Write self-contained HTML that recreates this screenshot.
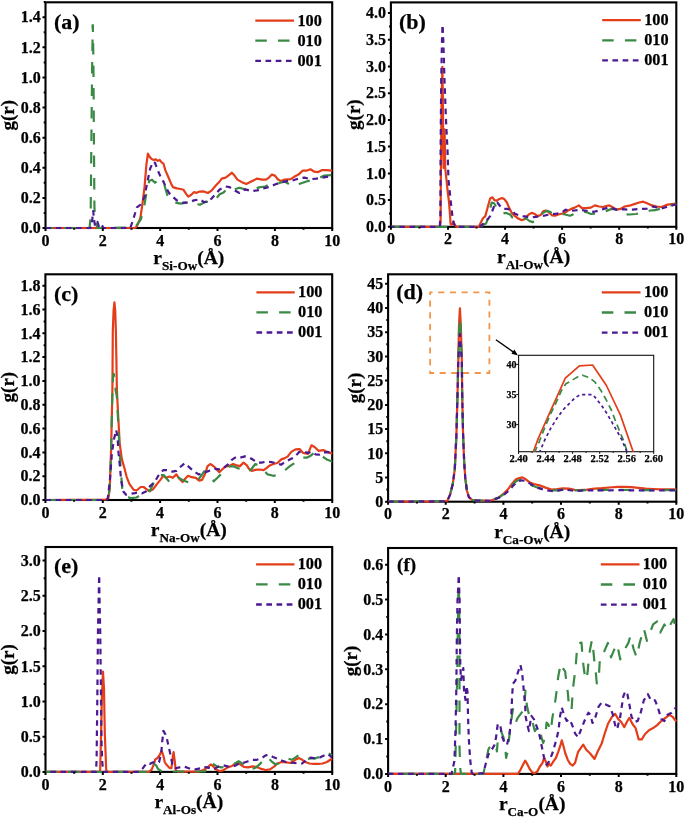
<!DOCTYPE html><html><head><meta charset="utf-8"><style>html,body{margin:0;padding:0;background:#fff;}svg{display:block} .t{font-family:"Liberation Serif",serif;font-weight:bold;stroke:#000;stroke-width:0.25px}</style></head><body>
<svg width="685" height="818" viewBox="0 0 685 818">
<rect width="685" height="818" fill="#fff"/>
<rect x="45.5" y="2.3" width="286.7" height="225.7" fill="none" stroke="#000" stroke-width="2.1"/>
<clipPath id="ca"><rect x="45.0" y="2.3" width="287.7" height="227.3"/></clipPath>
<g clip-path="url(#ca)" fill="none" stroke-linejoin="round">
<path d="M45.5 228.0 L135.0 228.0 L136.9 226.4 L140.4 217.8 L142.6 202.6 L144.5 187.4 L146.4 164.7 L147.9 153.7 L149.8 157.1 L151.7 159.0 L153.6 159.9 L155.9 159.4 L157.8 160.9 L159.7 159.9 L161.6 162.4 L163.5 163.7 L165.4 170.4 L168.3 177.0 L171.1 183.7 L173.0 187.1 L176.8 188.4 L180.6 189.0 L183.4 189.7 L186.3 194.1 L188.2 196.6 L191.0 195.0 L193.9 192.2 L196.7 192.8 L199.6 191.6 L203.9 191.4 L207.9 193.0 L211.8 190.4 L215.8 185.5 L219.7 181.5 L221.7 178.6 L225.6 177.6 L229.6 174.6 L231.9 172.7 L234.5 175.6 L237.4 179.6 L241.4 181.9 L246.3 183.9 L251.2 181.5 L257.2 178.6 L262.1 179.6 L266.0 179.6 L269.0 177.6 L271.9 174.6 L274.9 175.6 L277.8 179.2 L280.8 181.1 L284.7 179.6 L290.7 179.2 L294.6 176.6 L298.5 174.6 L302.5 170.7 L306.4 170.7 L310.4 169.3 L314.3 171.7 L318.2 172.1 L322.2 170.1 L326.1 170.1 L332.2 170.7" stroke="#E43D1A" stroke-width="2.2"/>
<path d="M92.8 24.5 L92.2 60.0 L91.3 150.0 L90.6 218.0 L89.5 228.0 L45.5 228.0" stroke="#3A8A46" stroke-width="2.2" stroke-dasharray="11.5 11" stroke-dashoffset="7.50"/>
<path d="M92.8 24.5 L93.4 60.0 L94.0 150.0 L94.4 205.0 L95.0 222.0 L96.5 225.0 L97.5 228.0 L135.0 227.5 L140.7 219.7 L143.6 210.2 L146.4 193.1 L149.3 180.8 L152.1 179.9 L155.0 182.7 L157.8 180.8 L161.6 179.9 L164.5 185.5 L167.3 195.0 L170.1 200.7 L174.9 202.6 L180.6 203.6 L186.3 202.6 L192.0 202.6 L197.7 204.2 L200.0 204.8 L205.9 201.6 L211.8 202.8 L214.8 200.3 L219.7 194.3 L223.6 192.4 L228.6 187.4 L234.5 189.4 L239.4 187.8 L245.3 189.4 L253.2 189.4 L259.1 187.4 L265.0 186.5 L271.9 183.5 L278.8 183.1 L284.7 181.5 L289.7 184.5 L294.6 186.5 L300.5 183.5 L306.4 181.5 L312.3 180.0 L318.2 178.6 L324.2 175.6 L332.2 175.0" stroke="#3A8A46" stroke-width="2.2" stroke-dasharray="11.5 11" stroke-dashoffset="4.00"/>
<path d="M45.5 228.0 L90.5 228.0 L92.0 222.0 L93.2 211.0 L94.0 219.0 L95.0 226.0 L97.5 222.0 L99.0 227.0 L101.5 224.5 L103.5 228.0 L130.3 228.0 L133.1 219.7 L136.9 207.4 L140.7 204.5 L144.5 196.9 L147.4 181.8 L150.2 168.5 L153.1 161.8 L155.0 162.8 L157.8 170.4 L160.7 177.0 L163.5 181.8 L166.4 188.4 L169.2 193.1 L173.0 196.9 L176.8 200.4 L182.5 202.6 L188.2 202.6 L193.9 200.4 L200.0 199.3 L203.9 202.2 L207.9 201.6 L211.8 198.3 L215.8 193.8 L219.7 189.4 L225.6 186.5 L229.6 187.1 L234.5 190.4 L239.4 193.0 L245.3 189.4 L251.2 191.0 L257.2 190.4 L263.1 188.4 L269.0 187.1 L274.9 184.5 L280.8 182.5 L286.7 181.1 L292.6 180.5 L298.5 178.6 L304.5 177.6 L310.4 179.2 L316.3 178.6 L322.2 177.6 L328.1 176.6 L332.2 175.6" stroke="#4B1A92" stroke-width="2.2" stroke-dasharray="5.6 4.6" stroke-dashoffset="0.00"/>
</g>
<path d="M45.5 228.0V231.0 M74.2 228.0V229.8 M102.8 228.0V231.0 M131.5 228.0V229.8 M160.2 228.0V231.0 M188.8 228.0V229.8 M217.5 228.0V231.0 M246.2 228.0V229.8 M274.9 228.0V231.0 M303.5 228.0V229.8 M332.2 228.0V231.0 M45.5 228.0H42.5 M45.5 212.9H43.7 M45.5 197.9H42.5 M45.5 182.8H43.7 M45.5 167.8H42.5 M45.5 152.7H43.7 M45.5 137.7H42.5 M45.5 122.6H43.7 M45.5 107.5H42.5 M45.5 92.5H43.7 M45.5 77.4H42.5 M45.5 62.4H43.7 M45.5 47.3H42.5 M45.5 32.3H43.7 M45.5 17.2H42.5 M45.5 2.1H43.7" stroke="#000" stroke-width="2" fill="none"/>
<path d="M255.3 20.6H294.0" stroke="#E43D1A" stroke-width="2.3"/>
<path d="M255.3 40.7H294.0" stroke="#3A8A46" stroke-width="2.3" stroke-dasharray="11.5 11.2"/>
<path d="M255.3 60.8H294.0" stroke="#4B1A92" stroke-width="2.3" stroke-dasharray="5.7 4.5"/>
<rect x="390.9" y="2.4" width="285.4" height="224.4" fill="none" stroke="#000" stroke-width="2.1"/>
<clipPath id="cb"><rect x="390.4" y="2.4" width="286.4" height="226.0"/></clipPath>
<g clip-path="url(#cb)" fill="none" stroke-linejoin="round">
<path d="M390.9 226.8 L440.0 226.8 L440.6 222.0 L441.0 160.0 L441.6 100.0 L442.4 66.8 L442.9 100.0 L443.3 150.0 L443.6 168.0 L444.0 150.0 L444.5 129.4 L445.0 150.0 L445.2 168.0 L446.5 180.0 L447.5 190.0 L449.0 202.0 L450.0 215.0 L450.6 224.0 L451.6 224.7 L453.6 222.2 L455.0 225.2 L456.6 226.8 L478.8 226.8 L480.4 223.4 L482.8 218.5 L485.3 216.1 L487.7 207.3 L490.1 198.5 L492.5 197.3 L494.4 200.1 L496.5 200.6 L498.9 199.3 L502.1 198.0 L504.5 199.3 L506.9 202.5 L509.3 208.1 L511.8 212.9 L515.0 216.1 L518.2 218.5 L521.4 220.1 L524.6 219.3 L527.0 216.1 L529.4 214.0 L531.8 212.9 L534.2 213.7 L537.4 216.1 L540.7 215.0 L543.1 211.3 L545.5 210.5 L548.7 212.1 L551.9 215.3 L555.1 215.7 L558.3 214.5 L561.5 213.7 L564.7 212.9 L568.0 210.5 L571.2 208.9 L574.8 207.6 L578.8 205.4 L582.0 208.1 L586.1 208.1 L590.9 207.6 L594.9 205.4 L598.9 206.5 L602.9 207.0 L606.1 206.0 L609.3 205.4 L612.6 207.3 L616.6 209.7 L620.6 208.9 L624.6 206.5 L629.4 205.7 L634.2 204.1 L639.1 202.5 L643.1 201.7 L647.1 203.3 L651.9 205.4 L656.7 206.5 L661.5 207.0 L666.4 204.9 L671.2 204.1 L676.3 203.6" stroke="#E43D1A" stroke-width="2.2"/>
<path d="M390.9 226.8 L480.0 226.8 L482.8 225.0 L486.1 223.4 L488.5 216.9 L490.1 208.9 L491.7 202.5 L494.1 203.3 L496.5 207.3 L498.9 211.3 L502.1 213.7 L506.1 212.9 L510.1 214.5 L512.6 217.7 L516.6 219.3 L521.4 219.3 L526.2 218.5 L529.4 221.0 L532.6 222.1 L535.8 221.0 L539.1 217.7 L543.1 212.9 L547.1 210.8 L550.3 212.1 L553.5 213.7 L558.3 214.5 L563.1 214.0 L570.0 215.7 L574.8 213.7 L581.2 211.3 L586.1 212.1 L590.9 214.0 L595.7 213.7 L600.5 212.9 L605.3 211.3 L611.8 208.9 L616.6 209.7 L620.6 211.8 L624.6 214.2 L629.4 214.5 L635.8 214.0 L640.7 212.9 L645.5 211.8 L650.3 210.5 L655.1 210.2 L659.9 208.9 L664.7 207.3 L669.6 205.7 L676.3 204.0" stroke="#3A8A46" stroke-width="2.2" stroke-dasharray="11.5 11" stroke-dashoffset="0.00"/>
<path d="M442.6 27.1 L442.0 40.0 L441.2 80.0 L440.6 150.0 L440.4 215.0 L439.8 226.8 L390.9 226.8" stroke="#4B1A92" stroke-width="2.2" stroke-dasharray="5.6 4.6" stroke-dashoffset="0.00"/>
<path d="M442.6 27.1 L443.3 40.0 L444.5 80.0 L446.0 120.0 L447.5 150.0 L448.5 180.0 L450.6 200.0 L452.6 218.0 L454.0 224.0 L455.6 226.8 L479.6 226.8 L484.5 222.6 L487.7 219.3 L490.1 216.1 L492.5 210.5 L494.9 204.1 L497.3 202.5 L500.5 206.5 L503.7 208.9 L507.7 208.9 L511.8 210.5 L515.0 213.7 L518.2 215.0 L523.0 216.1 L527.8 216.9 L532.6 217.3 L537.4 216.6 L542.3 216.1 L547.1 215.0 L551.9 214.2 L556.7 213.7 L561.5 212.9 L565.6 209.7 L570.0 210.8 L574.8 210.5 L579.6 209.7 L584.5 210.5 L589.3 211.3 L594.1 211.8 L598.9 210.5 L603.7 208.9 L608.5 207.6 L613.4 208.6 L618.2 210.2 L623.0 209.2 L627.8 209.7 L632.6 209.7 L637.4 209.2 L642.3 208.9 L647.1 208.6 L651.9 206.5 L656.7 207.3 L661.5 208.6 L666.4 207.0 L671.2 205.7 L676.3 204.3" stroke="#4B1A92" stroke-width="2.2" stroke-dasharray="5.6 4.6" stroke-dashoffset="0.00"/>
</g>
<path d="M390.9 226.8V229.8 M419.4 226.8V228.6 M448.0 226.8V229.8 M476.5 226.8V228.6 M505.1 226.8V229.8 M533.6 226.8V228.6 M562.1 226.8V229.8 M590.7 226.8V228.6 M619.2 226.8V229.8 M647.8 226.8V228.6 M676.3 226.8V229.8 M390.9 226.8H387.9 M390.9 213.4H389.1 M390.9 200.1H387.9 M390.9 186.7H389.1 M390.9 173.4H387.9 M390.9 160.0H389.1 M390.9 146.6H387.9 M390.9 133.3H389.1 M390.9 119.9H387.9 M390.9 106.5H389.1 M390.9 93.2H387.9 M390.9 79.8H389.1 M390.9 66.4H387.9 M390.9 53.1H389.1 M390.9 39.7H387.9 M390.9 26.4H389.1 M390.9 13.0H387.9" stroke="#000" stroke-width="2" fill="none"/>
<path d="M602.2 20.2H640.8" stroke="#E43D1A" stroke-width="2.3"/>
<path d="M602.2 40.3H640.8" stroke="#3A8A46" stroke-width="2.3" stroke-dasharray="11.5 11.2"/>
<path d="M602.2 60.4H640.8" stroke="#4B1A92" stroke-width="2.3" stroke-dasharray="5.7 4.5"/>
<rect x="45.4" y="274.3" width="286.8" height="225.7" fill="none" stroke="#000" stroke-width="2.1"/>
<clipPath id="cc"><rect x="44.9" y="274.3" width="287.8" height="227.3"/></clipPath>
<g clip-path="url(#cc)" fill="none" stroke-linejoin="round">
<path d="M45.4 500.0 L105.6 499.5 L108.4 498.2 L109.8 488.4 L111.2 446.2 L112.4 390.0 L112.8 331.7 L113.6 310.0 L114.4 302.3 L115.2 310.0 L115.9 331.7 L116.9 390.0 L118.3 418.1 L119.7 443.4 L121.8 458.9 L124.6 468.7 L126.7 477.1 L129.5 484.1 L133.7 489.8 L136.5 490.5 L140.7 487.0 L143.6 487.0 L146.4 489.1 L149.2 491.2 L152.8 489.6 L156.9 484.1 L160.4 479.9 L163.2 475.8 L166.0 477.8 L169.4 476.5 L172.9 477.8 L176.4 474.4 L179.1 478.5 L182.6 482.0 L185.4 478.5 L188.1 475.8 L191.6 477.2 L195.8 477.8 L199.2 480.6 L202.0 479.9 L204.8 474.4 L207.6 466.1 L210.3 464.0 L213.8 466.3 L216.6 469.5 L219.3 472.3 L222.1 469.5 L225.6 466.3 L229.1 466.1 L233.2 464.0 L236.7 465.4 L240.0 466.1 L243.5 462.6 L246.9 465.4 L249.0 468.8 L251.8 470.9 L255.3 469.9 L259.4 469.5 L263.6 470.2 L266.4 468.1 L269.8 465.4 L273.3 464.0 L277.4 463.0 L281.6 459.1 L284.4 458.4 L287.8 456.4 L291.3 451.9 L295.5 449.4 L299.6 449.1 L303.1 452.9 L308.0 453.9 L311.4 445.3 L314.9 447.3 L318.4 450.8 L323.2 450.1 L327.4 451.9 L332.2 453.6" stroke="#E43D1A" stroke-width="2.2"/>
<path d="M45.4 500.0 L106.0 500.0 L108.4 498.9 L110.1 481.3 L111.2 446.2 L112.2 400.0 L113.0 378.0 L113.7 373.8 L114.6 378.0 L115.6 390.0 L116.9 397.0 L118.3 425.1 L119.7 453.2 L121.1 474.3 L122.5 491.2 L125.3 496.1 L130.9 498.2 L136.5 497.5 L142.2 494.0 L147.8 489.8 L150.0 491.0 L155.5 478.5 L159.7 475.1 L163.9 475.1 L166.6 478.5 L170.1 482.7 L173.6 479.9 L177.7 477.2 L181.2 479.2 L184.7 481.0 L188.8 482.4 L193.0 482.7 L197.2 480.6 L201.3 475.8 L204.1 471.3 L206.9 473.0 L209.6 476.5 L213.8 481.3 L218.0 477.2 L222.1 473.0 L226.3 470.2 L230.4 466.1 L233.2 466.3 L237.4 468.1 L240.0 468.8 L243.5 471.6 L246.9 472.3 L251.1 469.5 L255.3 464.0 L259.4 465.4 L263.6 470.2 L267.7 474.4 L273.3 475.8 L277.4 475.1 L281.6 473.0 L285.8 469.5 L289.9 466.1 L294.1 463.3 L298.3 459.1 L302.4 457.7 L306.6 457.7 L310.7 455.7 L314.9 452.2 L319.1 454.3 L323.2 457.0 L327.4 459.8 L332.2 461.5" stroke="#3A8A46" stroke-width="2.2" stroke-dasharray="11.5 11" stroke-dashoffset="0.00"/>
<path d="M45.4 500.0 L106.5 500.0 L107.7 498.9 L109.8 481.3 L111.9 453.2 L114.0 439.2 L116.2 430.0 L117.6 437.8 L118.3 450.4 L119.7 464.5 L121.1 479.9 L123.2 491.2 L126.0 494.7 L129.5 494.0 L133.7 493.3 L137.9 492.6 L142.2 493.3 L146.4 491.2 L150.0 486.2 L154.2 482.7 L158.3 475.8 L163.2 470.2 L168.0 470.2 L172.2 471.6 L176.4 470.9 L179.8 467.4 L184.7 463.3 L190.2 468.1 L194.4 471.6 L198.5 474.4 L202.7 473.7 L206.9 471.6 L211.0 470.2 L215.2 468.8 L219.3 469.3 L223.5 468.1 L227.7 464.7 L231.8 459.8 L236.0 457.0 L240.0 457.7 L244.9 456.4 L249.7 457.7 L253.2 459.8 L257.3 462.6 L261.5 462.6 L266.4 461.6 L271.9 462.2 L276.8 463.3 L280.9 464.7 L285.8 461.6 L290.6 459.1 L294.8 457.0 L298.9 452.2 L303.1 451.5 L308.0 452.9 L312.1 451.9 L315.6 454.3 L319.1 454.7 L323.2 452.5 L327.4 452.2 L332.2 452.5" stroke="#4B1A92" stroke-width="2.2" stroke-dasharray="5.6 4.6" stroke-dashoffset="0.00"/>
</g>
<path d="M45.4 500.0V503.0 M74.1 500.0V501.8 M102.8 500.0V503.0 M131.4 500.0V501.8 M160.1 500.0V503.0 M188.8 500.0V501.8 M217.5 500.0V503.0 M246.2 500.0V501.8 M274.8 500.0V503.0 M303.5 500.0V501.8 M332.2 500.0V503.0 M45.4 500.0H42.4 M45.4 488.1H43.6 M45.4 476.2H42.4 M45.4 464.3H43.6 M45.4 452.4H42.4 M45.4 440.5H43.6 M45.4 428.6H42.4 M45.4 416.7H43.6 M45.4 404.8H42.4 M45.4 392.9H43.6 M45.4 380.9H42.4 M45.4 369.0H43.6 M45.4 357.1H42.4 M45.4 345.2H43.6 M45.4 333.3H42.4 M45.4 321.4H43.6 M45.4 309.5H42.4 M45.4 297.6H43.6 M45.4 285.7H42.4" stroke="#000" stroke-width="2" fill="none"/>
<path d="M256.4 292.3H294.7" stroke="#E43D1A" stroke-width="2.3"/>
<path d="M256.4 312.4H294.7" stroke="#3A8A46" stroke-width="2.3" stroke-dasharray="11.5 11.2"/>
<path d="M256.4 332.5H294.7" stroke="#4B1A92" stroke-width="2.3" stroke-dasharray="5.7 4.5"/>
<rect x="388.1" y="274.3" width="288.2" height="227.4" fill="none" stroke="#000" stroke-width="2.1"/>
<rect x="430.1" y="292.4" width="59.3" height="80.6" fill="none" stroke="#F39548" stroke-width="1.8" stroke-dasharray="6.1 5.6" stroke-dashoffset="3.6"/>
<clipPath id="cd"><rect x="387.6" y="274.3" width="289.2" height="229.0"/></clipPath>
<g clip-path="url(#cd)" fill="none" stroke-linejoin="round">
<path d="M388.1 501.7 L445.4 501.3 L447.4 500.6 L450.1 494.6 L452.8 483.8 L454.8 469.0 L456.4 435.4 L457.5 395.0 L458.3 360.0 L459.0 325.0 L459.9 308.3 L460.8 325.0 L461.8 360.0 L462.2 395.0 L463.1 435.4 L464.2 462.3 L465.3 478.4 L466.9 490.5 L468.9 497.2 L472.3 500.0 L477.7 500.6 L484.4 500.6 L490.0 500.8 L494.4 499.3 L498.8 497.4 L503.1 494.2 L507.5 489.8 L511.9 484.0 L515.5 479.6 L519.2 478.1 L522.4 477.4 L525.8 479.3 L529.4 482.2 L533.8 484.0 L539.6 485.4 L545.5 487.6 L551.3 489.5 L557.2 489.1 L563.0 488.4 L568.8 488.6 L574.7 489.8 L580.5 490.2 L587.3 489.7 L594.6 488.7 L601.9 488.2 L609.2 487.5 L618.0 486.8 L623.8 486.8 L631.1 487.2 L638.4 487.8 L645.7 488.7 L653.0 489.0 L660.3 489.3 L667.6 489.3 L676.3 489.3" stroke="#E43D1A" stroke-width="2.2"/>
<path d="M388.1 501.7 L445.4 501.3 L447.4 500.6 L450.1 494.6 L452.8 483.8 L454.8 469.0 L456.4 435.4 L457.5 395.0 L458.3 360.0 L459.1 330.0 L459.9 317.7 L460.7 330.0 L461.8 360.0 L462.2 395.0 L463.1 435.4 L464.2 462.3 L465.3 478.4 L466.9 490.5 L468.9 497.2 L472.3 500.0 L477.7 500.6 L484.4 500.6 L490.0 500.8 L498.8 497.6 L503.8 494.2 L508.3 490.0 L512.6 484.7 L516.5 481.0 L520.0 479.7 L523.6 480.5 L527.0 482.5 L531.0 485.0 L536.0 487.0 L541.0 488.6 L546.0 489.8 L551.3 490.5 L557.0 490.3 L563.0 489.6 L569.0 489.8 L575.0 490.3 L581.0 490.3 L590.0 490.1 L600.0 490.0 L610.0 489.8 L620.0 489.8 L630.0 490.0 L640.0 490.1 L650.0 490.1 L660.0 490.1 L676.3 490.0" stroke="#3A8A46" stroke-width="2.2" stroke-dasharray="11.5 11" stroke-dashoffset="0.00"/>
<path d="M388.1 501.7 L445.4 501.3 L447.4 500.6 L450.1 494.6 L452.8 483.8 L454.8 469.0 L456.4 435.4 L457.5 395.0 L458.3 360.0 L459.2 345.0 L459.9 334.0 L460.6 345.0 L461.8 360.0 L462.2 395.0 L463.1 435.4 L464.2 462.3 L465.3 478.4 L466.9 490.5 L468.9 497.2 L472.3 500.0 L477.7 500.6 L484.4 500.6 L490.0 500.8 L498.8 497.8 L504.6 494.2 L509.0 490.5 L513.4 485.4 L517.7 481.8 L521.4 480.3 L525.0 480.8 L529.4 483.2 L533.8 486.2 L539.6 488.4 L545.5 490.1 L551.3 491.0 L555.7 491.3 L560.1 490.1 L565.9 489.8 L571.8 490.5 L577.6 491.0 L583.4 490.4 L590.0 490.4 L600.0 490.4 L610.0 490.3 L620.0 490.2 L630.0 490.3 L640.0 490.4 L650.0 490.5 L660.0 490.5 L676.3 490.3" stroke="#4B1A92" stroke-width="2.2" stroke-dasharray="5.6 4.6" stroke-dashoffset="0.00"/>
</g>
<path d="M388.1 501.7V504.7 M416.9 501.7V503.5 M445.7 501.7V504.7 M474.6 501.7V503.5 M503.4 501.7V504.7 M532.2 501.7V503.5 M561.0 501.7V504.7 M589.8 501.7V503.5 M618.7 501.7V504.7 M647.5 501.7V503.5 M676.3 501.7V504.7 M388.1 501.7H385.1 M388.1 489.6H386.3 M388.1 477.5H385.1 M388.1 465.4H386.3 M388.1 453.3H385.1 M388.1 441.2H386.3 M388.1 429.1H385.1 M388.1 417.0H386.3 M388.1 404.9H385.1 M388.1 392.8H386.3 M388.1 380.6H385.1 M388.1 368.5H386.3 M388.1 356.4H385.1 M388.1 344.3H386.3 M388.1 332.2H385.1 M388.1 320.1H386.3 M388.1 308.0H385.1 M388.1 295.9H386.3 M388.1 283.8H385.1" stroke="#000" stroke-width="2" fill="none"/>
<path d="M601.8 292.4H640.5" stroke="#E43D1A" stroke-width="2.3"/>
<path d="M601.8 312.5H640.5" stroke="#3A8A46" stroke-width="2.3" stroke-dasharray="11.5 11.2"/>
<path d="M601.8 332.6H640.5" stroke="#4B1A92" stroke-width="2.3" stroke-dasharray="5.7 4.5"/>
<rect x="45.5" y="547.0" width="286.7" height="224.9" fill="none" stroke="#000" stroke-width="2.1"/>
<clipPath id="ce"><rect x="45.0" y="547.0" width="287.7" height="226.5"/></clipPath>
<g clip-path="url(#ce)" fill="none" stroke-linejoin="round">
<path d="M45.5 771.9 L99.8 771.9 L100.1 771.4 L101.1 733.3 L101.8 700.0 L103.0 671.7 L104.0 689.3 L104.8 733.3 L106.2 769.9 L107.0 771.9 L148.8 771.9 L151.7 769.6 L153.9 763.8 L155.3 759.4 L157.5 758.0 L159.7 755.0 L161.6 750.7 L163.4 755.8 L164.8 762.3 L167.0 765.3 L169.9 768.2 L171.4 768.2 L172.8 756.5 L173.6 752.1 L174.7 760.9 L175.8 770.4 L178.0 771.6 L198.4 771.6 L202.8 770.4 L206.4 768.2 L208.6 766.4 L210.8 764.5 L213.0 766.0 L215.9 769.6 L219.6 771.1 L223.2 770.4 L227.6 767.4 L232.0 766.0 L235.0 763.5 L237.9 762.7 L240.8 764.9 L243.8 766.8 L248.1 767.4 L252.5 766.4 L256.9 767.1 L261.3 768.9 L265.7 770.0 L270.0 769.3 L274.4 766.4 L277.3 763.5 L281.7 762.0 L286.1 762.4 L290.5 763.0 L293.4 761.3 L296.3 759.1 L299.2 758.1 L302.2 759.8 L305.1 762.0 L309.5 763.5 L313.8 763.9 L318.2 763.9 L322.6 763.5 L327.0 762.0 L332.2 758.5" stroke="#E43D1A" stroke-width="2.2"/>
<path d="M45.5 771.9 L148.0 771.9 L151.7 765.3 L153.9 763.8 L156.1 765.3 L158.0 769.0 L162.0 771.5 L205.0 771.5 L210.1 763.1 L213.0 763.8 L217.4 766.7 L221.8 767.4 L227.6 766.7 L233.4 764.5 L235.0 763.5 L238.6 761.3 L242.3 763.5 L246.7 768.6 L251.1 769.3 L255.4 767.8 L259.8 764.2 L264.2 759.1 L267.1 756.9 L271.5 761.3 L275.1 764.2 L278.8 763.5 L283.2 762.0 L287.6 758.4 L291.9 759.8 L296.3 756.9 L299.2 754.7 L302.9 757.6 L306.5 759.1 L310.9 758.4 L315.3 758.4 L319.7 756.9 L324.1 753.2 L328.4 753.2 L332.2 755.4" stroke="#3A8A46" stroke-width="2.2" stroke-dasharray="11.5 11" stroke-dashoffset="0.00"/>
<path d="M99.1 577.4 L98.0 630.0 L97.3 700.0 L96.6 760.0 L96.0 771.9 L45.5 771.9" stroke="#4B1A92" stroke-width="2.2" stroke-dasharray="5.6 4.6" stroke-dashoffset="0.00"/>
<path d="M99.1 577.4 L100.2 630.0 L100.8 680.0 L101.2 720.0 L101.6 745.0 L102.3 762.6 L103.3 771.9 L139.0 771.9 L142.9 768.2 L146.6 763.1 L150.2 763.8 L153.1 762.3 L156.1 763.1 L159.0 762.3 L161.2 753.6 L162.2 741.9 L163.4 730.9 L165.5 734.6 L167.0 739.0 L168.5 746.3 L169.9 752.1 L171.4 759.4 L172.8 766.7 L175.8 768.2 L179.4 767.4 L183.1 766.4 L186.7 767.4 L190.4 768.9 L194.0 769.6 L197.7 768.9 L201.3 768.2 L204.2 767.0 L207.2 767.4 L211.5 768.9 L214.5 768.9 L218.8 766.4 L223.2 765.3 L227.6 766.4 L232.0 766.7 L235.0 765.7 L239.4 763.5 L243.8 762.7 L248.1 761.3 L252.5 759.8 L256.9 759.8 L261.3 758.4 L265.7 755.4 L268.6 754.7 L273.0 756.9 L277.3 758.6 L281.7 760.5 L286.1 762.0 L290.5 762.7 L294.9 763.0 L297.8 763.5 L302.2 763.5 L306.5 759.8 L310.9 757.6 L315.3 758.4 L319.7 757.6 L324.1 755.4 L327.7 754.0 L332.2 757.6" stroke="#4B1A92" stroke-width="2.2" stroke-dasharray="5.6 4.6" stroke-dashoffset="0.00"/>
</g>
<path d="M45.5 771.9V774.9 M74.2 771.9V773.7 M102.8 771.9V774.9 M131.5 771.9V773.7 M160.2 771.9V774.9 M188.8 771.9V773.7 M217.5 771.9V774.9 M246.2 771.9V773.7 M274.9 771.9V774.9 M303.5 771.9V773.7 M332.2 771.9V774.9 M45.5 771.9H42.5 M45.5 754.3H43.7 M45.5 736.7H42.5 M45.5 719.1H43.7 M45.5 701.5H42.5 M45.5 683.9H43.7 M45.5 666.2H42.5 M45.5 648.6H43.7 M45.5 631.0H42.5 M45.5 613.4H43.7 M45.5 595.8H42.5 M45.5 578.2H43.7 M45.5 560.6H42.5" stroke="#000" stroke-width="2" fill="none"/>
<path d="M256.1 564.3H294.5" stroke="#E43D1A" stroke-width="2.3"/>
<path d="M256.1 584.4H294.5" stroke="#3A8A46" stroke-width="2.3" stroke-dasharray="11.5 11.2"/>
<path d="M256.1 604.5H294.5" stroke="#4B1A92" stroke-width="2.3" stroke-dasharray="5.7 4.5"/>
<rect x="388.1" y="548.0" width="288.2" height="225.9" fill="none" stroke="#000" stroke-width="2.1"/>
<clipPath id="cf"><rect x="387.6" y="548.0" width="289.2" height="227.5"/></clipPath>
<g clip-path="url(#cf)" fill="none" stroke-linejoin="round">
<path d="M388.1 773.9 L517.9 773.9 L520.5 769.8 L523.0 764.8 L525.2 760.6 L527.2 764.0 L529.7 769.0 L532.3 772.4 L534.8 773.2 L537.3 771.5 L539.9 766.5 L542.4 763.1 L544.1 758.0 L545.8 761.4 L547.5 766.5 L549.1 764.0 L550.8 765.6 L553.4 761.4 L555.9 758.0 L558.4 751.3 L560.6 744.6 L561.8 740.3 L563.5 746.2 L565.2 753.0 L567.7 759.7 L570.2 763.9 L572.7 765.6 L575.0 763.1 L578.1 751.8 L583.2 744.6 L586.3 749.7 L590.4 753.8 L594.5 759.0 L597.6 751.8 L601.7 743.6 L604.8 733.3 L607.9 724.0 L612.0 716.8 L615.1 713.8 L618.1 718.9 L621.2 722.0 L624.3 727.1 L627.4 721.0 L629.4 717.9 L632.5 724.0 L635.6 728.1 L638.7 739.4 L641.8 739.4 L644.9 734.3 L649.0 730.2 L653.1 728.1 L657.2 725.1 L661.3 721.0 L665.4 717.9 L669.5 714.8 L672.6 716.8 L676.3 721.5" stroke="#E43D1A" stroke-width="2.2"/>
<path d="M458.8 588.0 L458.3 595.0 L457.8 630.0 L457.3 674.4 L456.6 703.3 L455.9 739.3 L455.1 772.5 L454.0 773.9 L388.1 773.9" stroke="#3A8A46" stroke-width="2.2" stroke-dasharray="11.5 11" stroke-dashoffset="0.00"/>
<path d="M458.8 588.0 L459.2 600.0 L459.4 640.0 L459.5 674.4 L459.5 746.5 L460.2 768.2 L461.0 773.9 L483.4 773.9 L485.9 761.4 L488.4 749.6 L491.0 744.6 L493.5 743.7 L496.0 746.2 L496.9 751.3 L497.7 741.2 L499.4 734.4 L501.1 731.1 L503.6 737.8 L505.3 747.9 L506.1 758.0 L507.8 751.3 L509.5 734.4 L511.2 720.9 L512.9 709.1 L514.6 712.5 L516.3 720.9 L517.9 717.6 L520.5 714.2 L523.0 710.8 L524.7 700.7 L525.5 690.6 L526.9 705.8 L528.9 714.2 L531.4 715.0 L533.1 724.3 L534.8 731.1 L537.3 727.7 L539.9 727.7 L541.6 737.8 L543.2 742.9 L544.9 737.8 L546.6 722.6 L548.3 724.3 L550.8 731.1 L552.2 719.0 L555.3 700.7 L556.5 692.1 L557.7 681.1 L558.3 676.2 L560.8 663.4 L561.4 666.4 L565.1 671.3 L566.3 681.1 L567.9 693.3 L568.7 703.1 L570.6 708.0 L571.5 710.4 L572.4 697.0 L573.0 688.4 L574.2 678.7 L575.7 666.4 L576.7 653.0 L577.9 643.2 L581.5 642.6 L582.2 651.8 L583.4 665.2 L584.6 673.8 L586.4 679.9 L587.7 671.3 L588.9 656.7 L590.1 649.3 L591.9 640.2 L593.2 649.3 L594.4 661.5 L595.6 670.1 L596.8 683.5 L598.7 679.9 L599.9 657.9 L601.7 657.3 L604.8 650.1 L607.9 642.9 L611.0 657.3 L614.0 650.1 L617.1 643.9 L620.2 659.3 L624.3 650.1 L628.4 642.9 L630.5 635.7 L633.6 649.0 L636.6 657.3 L639.7 642.9 L643.8 628.5 L646.9 640.8 L650.0 632.6 L653.1 624.4 L657.2 621.3 L660.3 632.6 L664.4 624.4 L667.5 630.5 L671.6 622.3 L673.6 619.2 L676.3 630.5" stroke="#3A8A46" stroke-width="2.2" stroke-dasharray="11.5 11" stroke-dashoffset="0.00"/>
<path d="M458.8 577.4 L457.5 600.0 L456.8 640.0 L456.3 690.0 L455.5 730.0 L454.4 761.0 L451.5 773.9 L388.1 773.9" stroke="#4B1A92" stroke-width="2.2" stroke-dasharray="5.6 4.6" stroke-dashoffset="0.00"/>
<path d="M458.8 577.4 L459.6 600.0 L460.0 640.0 L460.3 665.0 L461.0 680.0 L462.5 672.0 L463.3 668.0 L464.0 690.0 L465.5 700.0 L466.5 686.0 L467.5 692.0 L468.0 715.0 L468.8 739.0 L470.3 761.0 L471.7 772.5 L473.0 773.9 L483.4 773.2 L485.9 763.1 L488.4 754.7 L491.8 749.6 L494.3 745.4 L496.0 737.8 L497.7 724.3 L500.2 724.3 L501.9 736.1 L504.5 742.9 L507.0 744.6 L509.5 734.4 L511.2 717.6 L512.0 699.0 L512.9 683.8 L515.4 680.5 L517.9 672.5 L520.5 665.0 L522.2 673.7 L523.8 690.6 L525.2 705.8 L525.5 715.9 L527.2 724.3 L528.9 731.1 L531.4 715.9 L534.0 719.3 L536.5 726.0 L539.0 732.7 L540.7 741.2 L542.4 749.6 L544.1 758.0 L546.6 764.8 L549.1 761.4 L552.5 753.0 L555.9 741.2 L558.4 731.1 L560.1 715.9 L561.8 707.5 L564.3 715.9 L566.8 720.9 L569.4 719.3 L571.9 724.3 L574.4 731.1 L575.0 733.3 L578.1 737.4 L581.2 729.2 L585.3 718.9 L588.4 712.7 L590.4 714.8 L592.5 723.0 L595.5 716.8 L598.6 706.6 L601.7 702.5 L605.8 704.5 L609.9 706.6 L613.0 714.8 L615.1 725.1 L617.1 729.2 L620.2 716.8 L623.3 696.3 L625.3 691.2 L627.4 694.2 L629.4 704.5 L631.5 716.8 L634.6 722.0 L637.7 720.9 L640.7 712.7 L643.8 700.4 L647.9 694.2 L651.0 700.4 L655.1 700.4 L658.2 708.6 L661.3 718.9 L664.4 721.0 L667.5 714.8 L671.6 712.7 L676.3 707.0" stroke="#4B1A92" stroke-width="2.2" stroke-dasharray="5.6 4.6" stroke-dashoffset="0.00"/>
</g>
<path d="M388.1 773.9V776.9 M416.9 773.9V775.7 M445.7 773.9V776.9 M474.6 773.9V775.7 M503.4 773.9V776.9 M532.2 773.9V775.7 M561.0 773.9V776.9 M589.8 773.9V775.7 M618.7 773.9V776.9 M647.5 773.9V775.7 M676.3 773.9V776.9 M388.1 773.9H385.1 M388.1 756.5H386.3 M388.1 739.0H385.1 M388.1 721.6H386.3 M388.1 704.2H385.1 M388.1 686.8H386.3 M388.1 669.3H385.1 M388.1 651.9H386.3 M388.1 634.5H385.1 M388.1 617.1H386.3 M388.1 599.6H385.1 M388.1 582.2H386.3 M388.1 564.8H385.1" stroke="#000" stroke-width="2" fill="none"/>
<path d="M600.8 564.4H639.5" stroke="#E43D1A" stroke-width="2.3"/>
<path d="M600.8 584.5H639.5" stroke="#3A8A46" stroke-width="2.3" stroke-dasharray="11.5 11.2"/>
<path d="M600.8 604.6H639.5" stroke="#4B1A92" stroke-width="2.3" stroke-dasharray="5.7 4.5"/>
<path d="M495.9 339.7 L513.5 352.1" stroke="#000" stroke-width="1.35" fill="none"/>
<path d="M518.0 355.4 L511.4 353.7 L514.4 349.6 Z" fill="#000"/>
<rect x="518.6" y="355.3" width="135.1" height="96.4" fill="#fff" stroke="#111" stroke-width="1.1"/>
<clipPath id="cins"><rect x="518.6" y="355.3" width="135.1" height="96.4"/></clipPath>
<g clip-path="url(#cins)" fill="none" stroke-width="1.7" stroke-linejoin="round">
<path d="M532.9 453.0 L538.4 438.1 L543.3 427.1 L548.2 416.1 L554.3 402.6 L560.4 389.2 L565.3 378.2 L579.4 365.8 L592.6 365.0 L606.4 385.5 L620.4 414.9 L633.6 453.0" stroke="#E43D1A"/>
<path d="M534.4 453.0 L539.7 440.5 L544.5 428.3 L550.7 413.6 L555.5 403.9 L561.6 390.4 L565.9 383.7 L571.4 380.7 L576.3 377.6 L582.4 375.2 L589.3 377.6 L594.8 381.9 L600.9 390.4 L606.4 400.2 L611.3 410.0 L615.5 421.0 L620.4 433.2 L624.1 441.7 L627.4 453.0" stroke="#3A8A46" stroke-dasharray="6.5 4"/>
<path d="M539.3 453.0 L544.5 440.5 L550.7 428.3 L556.8 418.5 L562.9 410.0 L569.0 403.9 L575.1 397.8 L580.0 394.7 L592.9 394.7 L596.0 398.4 L602.1 406.3 L607.0 413.6 L611.9 422.2 L616.8 430.7 L621.6 439.3 L627.4 453.0" stroke="#4B1A92" stroke-dasharray="3.2 3"/>
</g>
<path d="M518.6 364.4H516.3 M518.6 394.5H516.3 M518.6 424.6H516.3 M518.6 451.7V453.9 M545.6 451.7V453.9 M572.6 451.7V453.9 M599.7 451.7V453.9 M626.7 451.7V453.9 M653.7 451.7V453.9 M532.1 451.7V453.0 M559.1 451.7V453.0 M586.1 451.7V453.0 M613.2 451.7V453.0 M640.2 451.7V453.0" stroke="#111" stroke-width="1" fill="none"/>
<filter id="gs"><feColorMatrix type="saturate" values="0"/></filter>
<g filter="url(#gs)">
<text x="45.5" y="245.6" class="t" font-size="16" text-anchor="middle">0</text>
<text x="102.8" y="245.6" class="t" font-size="16" text-anchor="middle">2</text>
<text x="160.2" y="245.6" class="t" font-size="16" text-anchor="middle">4</text>
<text x="217.5" y="245.6" class="t" font-size="16" text-anchor="middle">6</text>
<text x="274.9" y="245.6" class="t" font-size="16" text-anchor="middle">8</text>
<text x="332.2" y="245.6" class="t" font-size="16" text-anchor="middle">10</text>
<text x="40.7" y="233.2" class="t" font-size="16" text-anchor="end">0.0</text>
<text x="40.7" y="203.1" class="t" font-size="16" text-anchor="end">0.2</text>
<text x="40.7" y="173.0" class="t" font-size="16" text-anchor="end">0.4</text>
<text x="40.7" y="142.9" class="t" font-size="16" text-anchor="end">0.6</text>
<text x="40.7" y="112.7" class="t" font-size="16" text-anchor="end">0.8</text>
<text x="40.7" y="82.6" class="t" font-size="16" text-anchor="end">1.0</text>
<text x="40.7" y="52.5" class="t" font-size="16" text-anchor="end">1.2</text>
<text x="40.7" y="22.4" class="t" font-size="16" text-anchor="end">1.4</text>
<text transform="translate(14.1 115.2) rotate(-90)" class="t" font-size="19" text-anchor="middle">g(r)</text>
<text x="188.8" y="264.4" class="t" font-size="19.5" text-anchor="middle">r<tspan font-size="13.2" dy="5.4">Si-Ow</tspan><tspan dy="-5.4">(Å)</tspan></text>
<text x="54.0" y="28.7" class="t" font-size="22.0">(a)</text>
<text x="297.4" y="25.5" class="t" font-size="16.3">100</text>
<text x="297.4" y="45.5" class="t" font-size="16.3">010</text>
<text x="297.4" y="65.5" class="t" font-size="16.3">001</text>
<text x="390.9" y="244.4" class="t" font-size="16" text-anchor="middle">0</text>
<text x="448.0" y="244.4" class="t" font-size="16" text-anchor="middle">2</text>
<text x="505.1" y="244.4" class="t" font-size="16" text-anchor="middle">4</text>
<text x="562.1" y="244.4" class="t" font-size="16" text-anchor="middle">6</text>
<text x="619.2" y="244.4" class="t" font-size="16" text-anchor="middle">8</text>
<text x="676.3" y="244.4" class="t" font-size="16" text-anchor="middle">10</text>
<text x="386.1" y="232.0" class="t" font-size="16" text-anchor="end">0.0</text>
<text x="386.1" y="205.3" class="t" font-size="16" text-anchor="end">0.5</text>
<text x="386.1" y="178.6" class="t" font-size="16" text-anchor="end">1.0</text>
<text x="386.1" y="151.8" class="t" font-size="16" text-anchor="end">1.5</text>
<text x="386.1" y="125.1" class="t" font-size="16" text-anchor="end">2.0</text>
<text x="386.1" y="98.4" class="t" font-size="16" text-anchor="end">2.5</text>
<text x="386.1" y="71.6" class="t" font-size="16" text-anchor="end">3.0</text>
<text x="386.1" y="44.9" class="t" font-size="16" text-anchor="end">3.5</text>
<text x="386.1" y="18.2" class="t" font-size="16" text-anchor="end">4.0</text>
<text transform="translate(359.9 114.6) rotate(-90)" class="t" font-size="19" text-anchor="middle">g(r)</text>
<text x="533.6" y="263.2" class="t" font-size="19.5" text-anchor="middle">r<tspan font-size="13.2" dy="5.4">Al-Ow</tspan><tspan dy="-5.4">(Å)</tspan></text>
<text x="399.0" y="28.5" class="t" font-size="22.0">(b)</text>
<text x="644.2" y="25.1" class="t" font-size="16.3">100</text>
<text x="644.2" y="45.1" class="t" font-size="16.3">010</text>
<text x="644.2" y="65.1" class="t" font-size="16.3">001</text>
<text x="45.4" y="517.6" class="t" font-size="16" text-anchor="middle">0</text>
<text x="102.8" y="517.6" class="t" font-size="16" text-anchor="middle">2</text>
<text x="160.1" y="517.6" class="t" font-size="16" text-anchor="middle">4</text>
<text x="217.5" y="517.6" class="t" font-size="16" text-anchor="middle">6</text>
<text x="274.8" y="517.6" class="t" font-size="16" text-anchor="middle">8</text>
<text x="332.2" y="517.6" class="t" font-size="16" text-anchor="middle">10</text>
<text x="40.6" y="505.2" class="t" font-size="16" text-anchor="end">0.0</text>
<text x="40.6" y="481.4" class="t" font-size="16" text-anchor="end">0.2</text>
<text x="40.6" y="457.6" class="t" font-size="16" text-anchor="end">0.4</text>
<text x="40.6" y="433.8" class="t" font-size="16" text-anchor="end">0.6</text>
<text x="40.6" y="410.0" class="t" font-size="16" text-anchor="end">0.8</text>
<text x="40.6" y="386.1" class="t" font-size="16" text-anchor="end">1.0</text>
<text x="40.6" y="362.3" class="t" font-size="16" text-anchor="end">1.2</text>
<text x="40.6" y="338.5" class="t" font-size="16" text-anchor="end">1.4</text>
<text x="40.6" y="314.7" class="t" font-size="16" text-anchor="end">1.6</text>
<text x="40.6" y="290.9" class="t" font-size="16" text-anchor="end">1.8</text>
<text transform="translate(14.1 387.1) rotate(-90)" class="t" font-size="19" text-anchor="middle">g(r)</text>
<text x="188.8" y="536.4" class="t" font-size="19.5" text-anchor="middle">r<tspan font-size="13.2" dy="5.4">Na-Ow</tspan><tspan dy="-5.4">(Å)</tspan></text>
<text x="54.0" y="300.7" class="t" font-size="22.0">(c)</text>
<text x="298.0" y="297.2" class="t" font-size="16.3">100</text>
<text x="298.0" y="317.2" class="t" font-size="16.3">010</text>
<text x="298.0" y="337.2" class="t" font-size="16.3">001</text>
<text x="388.1" y="519.3" class="t" font-size="16" text-anchor="middle">0</text>
<text x="445.7" y="519.3" class="t" font-size="16" text-anchor="middle">2</text>
<text x="503.4" y="519.3" class="t" font-size="16" text-anchor="middle">4</text>
<text x="561.0" y="519.3" class="t" font-size="16" text-anchor="middle">6</text>
<text x="618.7" y="519.3" class="t" font-size="16" text-anchor="middle">8</text>
<text x="676.3" y="519.3" class="t" font-size="16" text-anchor="middle">10</text>
<text x="383.3" y="506.9" class="t" font-size="16" text-anchor="end">0</text>
<text x="383.3" y="482.7" class="t" font-size="16" text-anchor="end">5</text>
<text x="383.3" y="458.5" class="t" font-size="16" text-anchor="end">10</text>
<text x="383.3" y="434.3" class="t" font-size="16" text-anchor="end">15</text>
<text x="383.3" y="410.1" class="t" font-size="16" text-anchor="end">20</text>
<text x="383.3" y="385.8" class="t" font-size="16" text-anchor="end">25</text>
<text x="383.3" y="361.6" class="t" font-size="16" text-anchor="end">30</text>
<text x="383.3" y="337.4" class="t" font-size="16" text-anchor="end">35</text>
<text x="383.3" y="313.2" class="t" font-size="16" text-anchor="end">40</text>
<text x="383.3" y="289.0" class="t" font-size="16" text-anchor="end">45</text>
<text transform="translate(360.5 388.0) rotate(-90)" class="t" font-size="19" text-anchor="middle">g(r)</text>
<text x="532.2" y="538.1" class="t" font-size="19.5" text-anchor="middle">r<tspan font-size="13.2" dy="5.4">Ca-Ow</tspan><tspan dy="-5.4">(Å)</tspan></text>
<text x="396.3" y="299.3" class="t" font-size="22.0">(d)</text>
<text x="643.9" y="297.3" class="t" font-size="16.3">100</text>
<text x="643.9" y="317.3" class="t" font-size="16.3">010</text>
<text x="643.9" y="337.3" class="t" font-size="16.3">001</text>
<text x="45.5" y="789.5" class="t" font-size="16" text-anchor="middle">0</text>
<text x="102.8" y="789.5" class="t" font-size="16" text-anchor="middle">2</text>
<text x="160.2" y="789.5" class="t" font-size="16" text-anchor="middle">4</text>
<text x="217.5" y="789.5" class="t" font-size="16" text-anchor="middle">6</text>
<text x="274.9" y="789.5" class="t" font-size="16" text-anchor="middle">8</text>
<text x="332.2" y="789.5" class="t" font-size="16" text-anchor="middle">10</text>
<text x="40.7" y="777.1" class="t" font-size="16" text-anchor="end">0.0</text>
<text x="40.7" y="741.9" class="t" font-size="16" text-anchor="end">0.5</text>
<text x="40.7" y="706.7" class="t" font-size="16" text-anchor="end">1.0</text>
<text x="40.7" y="671.5" class="t" font-size="16" text-anchor="end">1.5</text>
<text x="40.7" y="636.2" class="t" font-size="16" text-anchor="end">2.0</text>
<text x="40.7" y="601.0" class="t" font-size="16" text-anchor="end">2.5</text>
<text x="40.7" y="565.8" class="t" font-size="16" text-anchor="end">3.0</text>
<text transform="translate(14.1 659.5) rotate(-90)" class="t" font-size="19" text-anchor="middle">g(r)</text>
<text x="188.8" y="808.3" class="t" font-size="19.5" text-anchor="middle">r<tspan font-size="13.2" dy="5.4">Al-Os</tspan><tspan dy="-5.4">(Å)</tspan></text>
<text x="54.0" y="573.4" class="t" font-size="22.0">(e)</text>
<text x="297.7" y="569.2" class="t" font-size="16.3">100</text>
<text x="297.7" y="589.2" class="t" font-size="16.3">010</text>
<text x="297.7" y="609.2" class="t" font-size="16.3">001</text>
<text x="388.1" y="791.5" class="t" font-size="16" text-anchor="middle">0</text>
<text x="445.7" y="791.5" class="t" font-size="16" text-anchor="middle">2</text>
<text x="503.4" y="791.5" class="t" font-size="16" text-anchor="middle">4</text>
<text x="561.0" y="791.5" class="t" font-size="16" text-anchor="middle">6</text>
<text x="618.7" y="791.5" class="t" font-size="16" text-anchor="middle">8</text>
<text x="676.3" y="791.5" class="t" font-size="16" text-anchor="middle">10</text>
<text x="383.3" y="779.1" class="t" font-size="16" text-anchor="end">0.0</text>
<text x="383.3" y="744.2" class="t" font-size="16" text-anchor="end">0.1</text>
<text x="383.3" y="709.4" class="t" font-size="16" text-anchor="end">0.2</text>
<text x="383.3" y="674.5" class="t" font-size="16" text-anchor="end">0.3</text>
<text x="383.3" y="639.7" class="t" font-size="16" text-anchor="end">0.4</text>
<text x="383.3" y="604.9" class="t" font-size="16" text-anchor="end">0.5</text>
<text x="383.3" y="570.0" class="t" font-size="16" text-anchor="end">0.6</text>
<text transform="translate(357.1 661.0) rotate(-90)" class="t" font-size="19" text-anchor="middle">g(r)</text>
<text x="532.2" y="810.3" class="t" font-size="19.5" text-anchor="middle">r<tspan font-size="13.2" dy="5.4">Ca-O</tspan><tspan dy="-5.4">(Å)</tspan></text>
<text x="397.1" y="571.4" class="t" font-size="19.0">(f)</text>
<text x="642.7" y="569.3" class="t" font-size="16.3">100</text>
<text x="642.7" y="589.3" class="t" font-size="16.3">010</text>
<text x="642.7" y="609.3" class="t" font-size="16.3">001</text>
<text x="516.6" y="367.8" class="t" font-size="10" text-anchor="end">40</text>
<text x="516.6" y="397.9" class="t" font-size="10" text-anchor="end">35</text>
<text x="516.6" y="428.0" class="t" font-size="10" text-anchor="end">30</text>
<text x="518.6" y="462.2" class="t" font-size="10.5" text-anchor="middle">2.40</text>
<text x="545.6" y="462.2" class="t" font-size="10.5" text-anchor="middle">2.44</text>
<text x="572.6" y="462.2" class="t" font-size="10.5" text-anchor="middle">2.48</text>
<text x="599.7" y="462.2" class="t" font-size="10.5" text-anchor="middle">2.52</text>
<text x="626.7" y="462.2" class="t" font-size="10.5" text-anchor="middle">2.56</text>
<text x="653.7" y="462.2" class="t" font-size="10.5" text-anchor="middle">2.60</text>
</g>
</svg></body></html>
